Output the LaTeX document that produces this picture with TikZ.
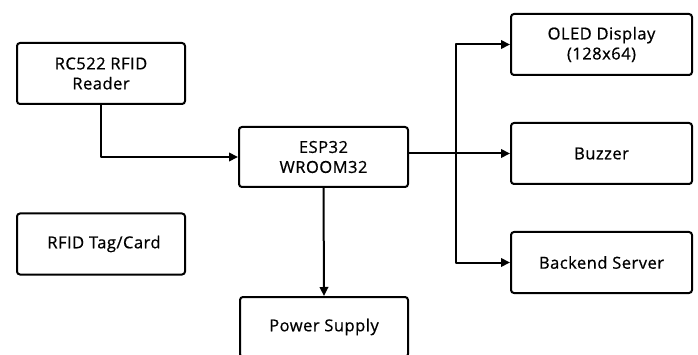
\documentclass[tikz,border=0pt]{standalone}
\usepackage{fontspec}
\setmainfont{Open Sans}
\newfontfamily\blkfont[LetterSpace=3,FakeBold=0.7]{Open Sans}
\usetikzlibrary{arrows.meta}

\tikzset{
  blk/.style={draw, line width=2pt, rounded corners=3pt, align=center,
              minimum width=168pt, minimum height=61pt, inner sep=0pt,
              font=\blkfont\fontsize{16.5}{20}\selectfont},
  wideblk/.style={blk, minimum width=181pt},
  arr/.style={-{Triangle[length=9pt,width=8.5pt]}},
}

\begin{document}
\begin{tikzpicture}[x=1pt, y=-1pt, line width=2pt, line join=round]

  %% ════ 方框 ════
  \node[blk] (rc)   at (101.0,73.5)  {RC522 RFID\\Reader};
  \node[blk] (tag)  at (101.0,244.0) {\hspace*{6pt}RFID Tag/Card};
  \node[blk, minimum width=169pt, minimum height=60pt] (esp) at (323.5,157.0) {ESP32\\WROOM32};
  \node[blk, minimum height=60pt] (pwr) at (324.0,327.0) {Power Supply};
  \node[wideblk] (oled) at (601.5,44.5)  {OLED Display\\(128x64)};
  \node[wideblk] (buz)  at (601.5,153.5) {Buzzer};
  \node[wideblk] (back) at (601.5,262.5) {Backend Server};

  %% ════ 连线 ════
  \coordinate (bus) at (456.0,153.5);
  \draw[arr] (rc.south) |- (esp.west);
  \draw[arr] (esp.east |- buz.west) -- (buz.west);
  \draw[arr] (bus) |- (oled.west);
  \draw[arr] (bus) |- (back.west);
  \draw[arr] (esp.south) -- (pwr.north);

  % 钉死画布
  \pgfresetboundingbox
  \path[use as bounding box] (0,0) rectangle (698,355);
\end{tikzpicture}
\end{document}
